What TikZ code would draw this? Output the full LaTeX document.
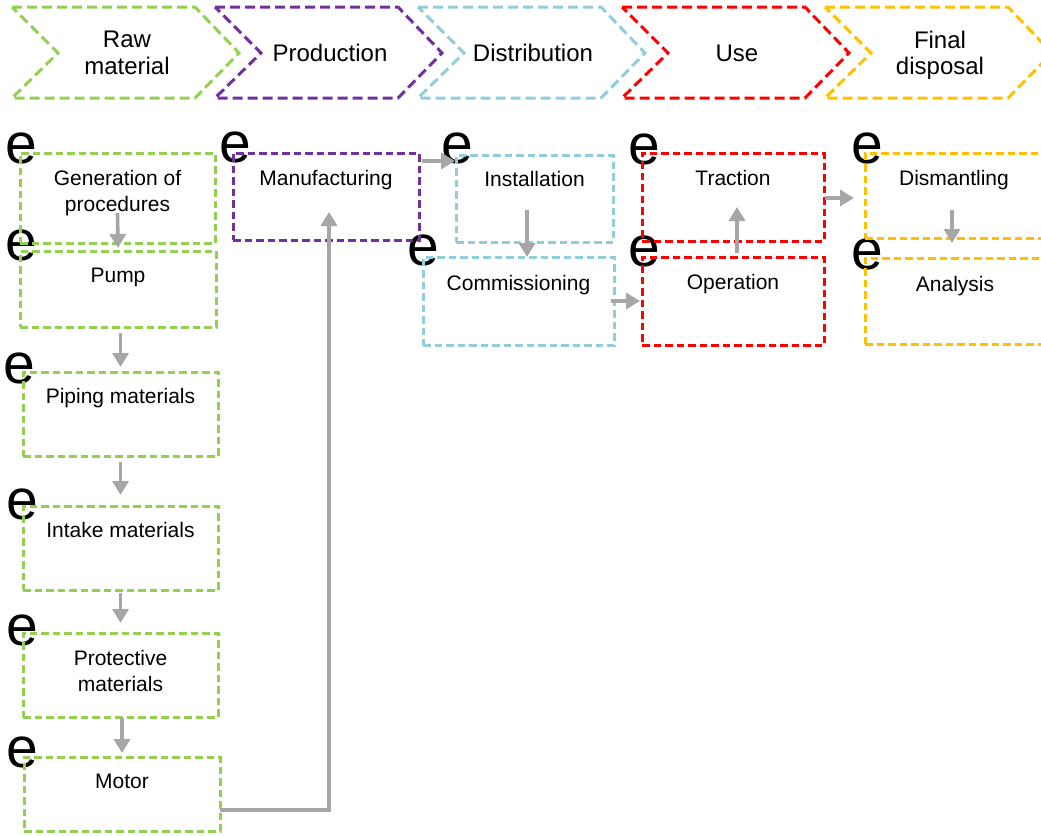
\documentclass[tikz,border=0pt]{standalone}
\usepackage{fontspec}
\setmainfont{Liberation Sans}
\usetikzlibrary{arrows.meta,calc}
\definecolor{cgreen}{HTML}{92D050}
\definecolor{cpurple}{HTML}{7030A0}
\definecolor{cblue}{HTML}{92CDDC}
\definecolor{cred}{HTML}{FF0000}
\definecolor{cyellow}{HTML}{FFC000}
\definecolor{cgray}{HTML}{A6A6A6}
\pgfdeclarelayer{bg}
\pgfsetlayers{bg,main}
\tikzset{
  chev/.style={line width=3pt, dash pattern=on 10pt off 5pt, line join=miter},
  htext/.style={font=\fontsize{24}{26.5}\selectfont, align=center, inner sep=0pt},
  box/.style={draw, line width=3pt, dash pattern=on 7.5pt off 4pt, anchor=north west, inner sep=0pt, outer sep=0pt},
  btext/.style={font=\fontsize{21}{26}\selectfont, align=center, inner sep=0pt, anchor=north},
  enode/.style={font=\fontsize{57}{60}\selectfont, inner sep=0pt},
  arr/.style={draw=cgray, line width=3.6pt, -{Triangle[length=14pt,width=16pt]}}
}
\begin{document}
\begin{tikzpicture}[x=1pt,y=1pt]
\useasboundingbox (0,0) rectangle (1041,-835);
\clip (0,0) rectangle (1041,-835);

% header chevrons
\draw[chev, draw=cgreen]  (12,-7)  -- ++(183,0) -- ++(44,-46) -- ++(-44,-45) -- ++(-183,0) -- ++(46,45) -- cycle;
\draw[chev, draw=cpurple] (215,-7) -- ++(183,0) -- ++(44,-46) -- ++(-44,-45) -- ++(-183,0) -- ++(46,45) -- cycle;
\draw[chev, draw=cblue]   (418,-7) -- ++(183,0) -- ++(44,-46) -- ++(-44,-45) -- ++(-183,0) -- ++(46,45) -- cycle;
\draw[chev, draw=cred]    (622,-7) -- ++(183,0) -- ++(44,-46) -- ++(-44,-45) -- ++(-183,0) -- ++(46,45) -- cycle;
\draw[chev, draw=cyellow] (825,-7) -- ++(183,0) -- ++(44,-46) -- ++(-44,-45) -- ++(-183,0) -- ++(46,45) -- cycle;

\node[htext] (hraw)  at (127,-53) {Raw\\material};
\node[htext] (hprod) at (330,-53) {Production};
\node[htext] (hdist) at (533,-53) {Distribution};
\node[htext] (huse)  at (737,-53) {Use};
\node[htext] (hfin)  at (940,-55.5) {Final\\disposal};

% boxes
\node[box, draw=cgreen, minimum width=195pt, minimum height=90pt] (gen)    at (20,-153) {};
\node[box, draw=cgreen, minimum width=196pt, minimum height=76pt] (pump)   at (20,-251) {};
\node[box, draw=cgreen, minimum width=195pt, minimum height=84pt] (pipe)   at (23,-372) {};
\node[box, draw=cgreen, minimum width=195pt, minimum height=84pt] (intake) at (23,-506) {};
\node[box, draw=cgreen, minimum width=195pt, minimum height=84pt] (prot)   at (23,-633) {};
\node[box, draw=cgreen, minimum width=196pt, minimum height=74pt] (motor)  at (24,-757) {};
\node[box, draw=cpurple, minimum width=186pt, minimum height=87pt] (manuf) at (233,-153) {};
\node[box, draw=cblue, minimum width=157pt, minimum height=87pt] (inst)    at (456,-155) {};
\node[box, draw=cblue, minimum width=191pt, minimum height=88pt] (comm)    at (423,-257) {};
\node[box, draw=cred, minimum width=182pt, minimum height=88pt] (trac)     at (642,-153) {};
\node[box, draw=cred, minimum width=182pt, minimum height=88pt] (oper)     at (642,-257) {};
\node[box, draw=cyellow, minimum width=182pt, minimum height=85pt] (dism)  at (865,-153) {};
\node[box, draw=cyellow, minimum width=182pt, minimum height=86pt] (anal)  at (865,-258) {};

% box texts
\node[btext] (genT)    at ($(gen.north)+(0,-17)$)    {Generation of\\procedures};
\node[btext] (pumpT)   at ($(pump.north)+(0,-17)$)   {Pump};
\node[btext] (pipeT)   at ($(pipe.north)+(0,-16)$)   {Piping materials};
\node[btext] (intakeT) at ($(intake.north)+(0,-16)$) {Intake materials};
\node[btext] (protT)   at ($(prot.north)+(0,-17)$)  {Protective\\materials};
\node[btext] (motorT)  at ($(motor.north)+(0,-17)$)  {Motor};
\node[btext] (manufT)  at ($(manuf.north)+(0,-17)$)  {Manufacturing};
\node[btext] (instT)   at ($(inst.north)+(0,-16)$)   {Installation};
\node[btext] (commT)   at ($(comm.north)+(0,-18)$)   {Commissioning};
\node[btext] (tracT)   at ($(trac.north)+(0,-17)$)   {Traction};
\node[btext] (operT)   at ($(oper.north)+(0,-17)$)   {Operation};
\node[btext] (dismT)   at ($(dism.north)+(-2,-17)$)  {Dismantling};
\node[btext] (analT)   at ($(anal.north)+(-1,-18)$)  {Analysis};

% e markers
\begin{pgfonlayer}{bg}
\node[enode] (e1)  at ($(gen.north west)+(1,5)$)    {e};
\node[enode] (e2)  at ($(pump.north west)+(1,6)$)   {e};
\node[enode] (e3)  at ($(pipe.north west)+(-4,4)$)  {e};
\node[enode] (e4)  at ($(intake.north west)+(-1,2)$) {e};
\node[enode] (e5)  at ($(prot.north west)+(-1,3)$)  {e};
\node[enode] (e6)  at ($(motor.north west)+(-2,5)$) {e};
\node[enode] (e7)  at ($(manuf.north west)+(2,6)$)  {e};
\node[enode] (e8)  at ($(inst.north west)+(1,7)$)   {e};
\node[enode] (e9)  at ($(comm.north west)+(0,7)$)   {e};
\node[enode] (e10) at ($(trac.north west)+(2,4)$)   {e};
\node[enode] (e11) at ($(oper.north west)+(2,6)$)   {e};
\node[enode] (e12) at ($(dism.north west)+(2,5)$)   {e};
\node[enode] (e13) at ($(anal.north west)+(2,4)$)   {e};
\end{pgfonlayer}

% connectors
\draw[arr] ($(gen.south)+(0,30)$) -- ($(pump.north)+(0,3)$);
\draw[arr] ($(pipe.north |- pump.south)+(0,-6)$) -- ($(pipe.north)+(0,5)$);
\draw[arr] ($(intake.north |- pipe.south)+(0,-6)$) -- ($(intake.north)+(0,11)$);
\draw[arr] ($(prot.north |- intake.south)+(0,-3)$) -- ($(prot.north)+(0,10)$);
\draw[arr] ($(motor.north |- prot.south)+(0,-1)$) -- ($(motor.north)+(0,4)$);
\draw[arr] ($(motor.east)+(0,-16)$) -| ($(manuf.south)+(3,28)$);
\draw[arr] ($(manuf.north east)+(3,-8)$) -- ($(inst.north west)+(-1,-6)$);
\draw[arr] ($(inst.south)+(-7.5,32)$) -- ($(inst.south |- comm.north)+(-7.5,0)$);
\draw[arr] ($(comm.east)+(-3,0)$) -- ($(oper.west)+(-2,0)$);
\draw[arr] ($(oper.north)+(4,4)$) -- ($(trac.south)+(4,34)$);
\draw[arr] ($(trac.east)+(1,-1)$) -- ($(dism.west |- trac.east)+(-11,-1)$);
\draw[arr] ($(dism.south)+(-4,28)$) -- ($(dism.south)+(-4,-5)$);
\end{tikzpicture}
\end{document}
